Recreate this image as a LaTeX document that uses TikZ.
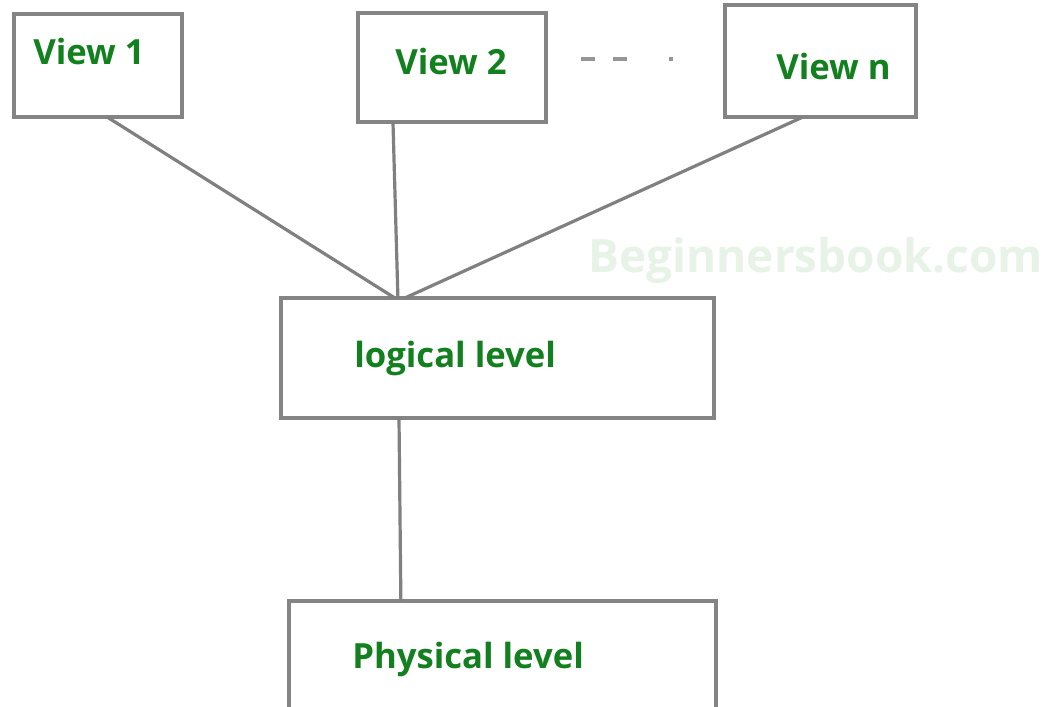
\documentclass[tikz,border=0pt]{standalone}
\usepackage{fontspec}
\setmainfont{Open Sans}
\usetikzlibrary{calc}
\definecolor{txtgreen}{RGB}{18,128,30}
\definecolor{linegray}{RGB}{128,128,128}
\definecolor{boxgray}{RGB}{132,132,132}
\definecolor{dotgray}{RGB}{150,150,150}
\definecolor{wmgreen}{RGB}{232,243,232}
\begin{document}
\begin{tikzpicture}[x=0.75pt,y=-0.75pt,
  box/.style={draw=boxgray, line width=2.5pt, rectangle, inner sep=0pt, outer sep=0pt, fill=white},
  lbl/.style={text=txtgreen, font=\fontsize{26}{30}\selectfont\bfseries, anchor=base west, inner sep=0pt},
  conn/.style={draw=linegray, line width=2.4pt},
  dotline/.style={draw=dotgray, line width=2.4pt}]
\useasboundingbox (0,0) rectangle (1048,706);
\clip (0,0) rectangle (1048,706);
\fill[white] (0,0) rectangle (1048,706);
% watermark
\node[text=wmgreen, font=\fontsize{34.5}{40}\selectfont\bfseries, anchor=base west, inner sep=0pt] (wm) at (588,272) {Beginnersbook.com};
% boxes
\node[box, minimum width=126pt, minimum height=77.25pt] (v1) at (98,65.5) {};
\node[box, minimum width=141pt, minimum height=81.75pt] (v2) at (452,67.5) {};
\node[box, minimum width=143.25pt, minimum height=84pt] (vn) at (820.5,61) {};
\node[box, minimum width=324.75pt, minimum height=90pt] (log) at (497.5,358) {};
\node[box, minimum width=320.25pt, minimum height=150pt] (phy) at (502.5,701) {};
% connectors
\draw[conn] ($(v1.south west)!0.554!(v1.south east)$) -- ($(log.north west)!0.263!(log.north east)$);
\draw[conn] ($(v2.south west)!0.186!(v2.south east)$) -- ($(log.north west)!0.270!(log.north east)$);
\draw[conn] ($(vn.south west)!0.408!(vn.south east)$) -- ($(log.north west)!0.286!(log.north east)$);
\draw[conn] ($(log.south west)!0.2725!(log.south east)$) -- ($(phy.north west)!0.262!(phy.north east)$);
% dots between View 2 and View n
\draw[dotline] (581,59) -- (595,59);
\draw[dotline] (613,59) -- (627,59);
\draw[dotline] (669,59) -- (673,59);
% labels
\node[lbl] (t1) at (33,65) {View 1};
\node[lbl] (t2) at (395,75) {View 2};
\node[lbl] (tn) at (776,80) {View n};
\node[lbl] (tl) at (354,367) {logical level};
\node[lbl] (tp) at (352,668) {Physical level};
\end{tikzpicture}
\end{document}
